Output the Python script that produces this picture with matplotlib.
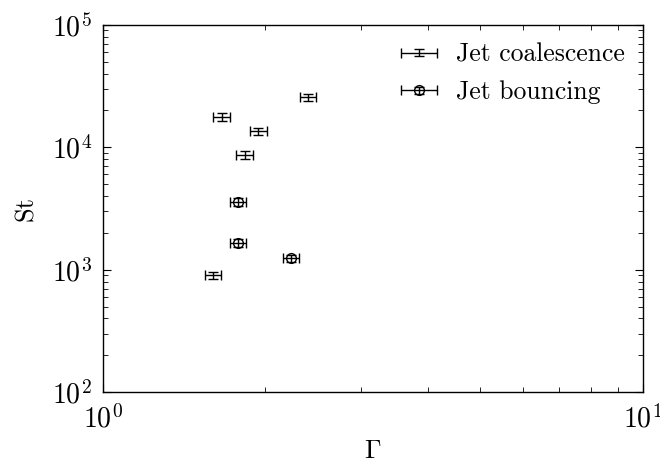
import numpy as np
import matplotlib
matplotlib.use('Agg')
import matplotlib.pyplot as plt
from matplotlib.container import ErrorbarContainer
from matplotlib.legend_handler import HandlerErrorbar
from matplotlib.ticker import NullFormatter

# Jet coalescence
coal_gamma = [2.40, 1.66, 1.94, 1.83, 1.60]
coal_gamma_err = [0.085, 0.060, 0.070, 0.065, 0.056]
coal_st = [25500, 17600, 13500, 8700, 900]
coal_st_err = [1800, 1300, 1000, 650, 65]

# Jet bouncing
bounce_gamma = [1.78, 1.78, 2.23]
bounce_gamma_err = [0.062, 0.062, 0.078]
bounce_st = [3600, 1650, 1240]
bounce_st_err = [260, 120, 90]

plt.rcParams['font.family'] = 'serif'
plt.rcParams['font.serif'] = ['cmr10', 'DejaVu Serif']
plt.rcParams['mathtext.fontset'] = 'cm'
plt.rcParams['axes.formatter.use_mathtext'] = True
plt.rcParams['axes.unicode_minus'] = False

fig, ax = plt.subplots(figsize=(6.6, 4.68), dpi=100)
fig.subplots_adjust(left=0.156, right=0.974, top=0.947, bottom=0.162)

ax.errorbar(coal_gamma, coal_st, xerr=coal_gamma_err, yerr=coal_st_err,
            fmt='none', ecolor='black', elinewidth=1.0, capsize=3.5,
            label='Jet coalescence')
ax.errorbar(bounce_gamma, bounce_st, xerr=bounce_gamma_err, yerr=bounce_st_err,
            fmt='o', mfc='none', mec='black', ms=7, mew=1.0,
            ecolor='black', elinewidth=1.0, capsize=3.5,
            label='Jet bouncing')

ax.set_xscale('log')
ax.set_yscale('log')
ax.set_xlim(1, 10)
ax.set_ylim(1e2, 1e5)
ax.xaxis.set_minor_formatter(NullFormatter())
ax.yaxis.set_minor_formatter(NullFormatter())
ax.set_xlabel(r'$\Gamma$', fontsize=19, labelpad=4)
ax.set_ylabel('St', fontsize=19, labelpad=10)
ax.tick_params(which='both', direction='in', top=True, right=True, labelsize=20)
ax.tick_params(axis='x', which='major', pad=9)
ax.tick_params(axis='y', which='major', pad=8)
ax.tick_params(which='major', length=6)
ax.tick_params(which='minor', length=3.5)
for s in ax.spines.values():
    s.set_linewidth(1.0)

ax.legend(loc='upper right', frameon=False, fontsize=18.5, handlelength=1.5,
          handletextpad=0.7, labelspacing=0.55, borderaxespad=0.3,
          handler_map={ErrorbarContainer: HandlerErrorbar(xerr_size=0.7, yerr_size=0.15)})

fig.savefig('out.png', dpi=100)
